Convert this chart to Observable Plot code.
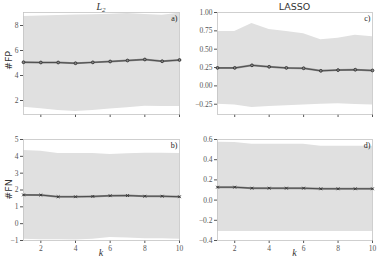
<!DOCTYPE html>
<html><head><meta charset="utf-8">
<script src="https://cdn.jsdelivr.net/npm/d3@7"></script>
<script src="https://cdn.jsdelivr.net/npm/@observablehq/plot@0.6"></script>
<style>
body{margin:0;background:#fff;}
#wrap{position:relative;width:377px;height:260px;overflow:hidden;}
#wrap svg{position:absolute;left:0;top:0;}
.lbl{position:absolute;color:#333;white-space:nowrap;line-height:1;}
</style></head><body>
<div id="wrap">
<div class="lbl" style="left:0;top:1px;width:202px;text-align:center;font:italic 10px 'Liberation Serif',serif;">L<span style="font-size:7px;position:relative;top:2px;">2</span></div>
<div class="lbl" style="left:217px;top:1px;width:155px;text-align:center;font:9.5px 'DejaVu Sans',sans-serif;">LASSO</div>
<div class="lbl" style="left:-12px;top:55px;width:40px;text-align:center;font:9.5px 'DejaVu Sans',sans-serif;transform:rotate(-90deg);">#FP</div>
<div class="lbl" style="left:-12px;top:184px;width:40px;text-align:center;font:9.5px 'DejaVu Sans',sans-serif;transform:rotate(-90deg);">#FN</div>
<div class="lbl" style="left:23px;top:247px;width:156px;text-align:center;font:italic 10px 'Liberation Serif',serif;">k</div>
<div class="lbl" style="left:217px;top:247px;width:155px;text-align:center;font:italic 10px 'Liberation Serif',serif;">k</div>
</div>
<script>
const k = [1,2,3,4,5,6,7,8,9,10];
const fpL2Mean  = [5.06,5.04,5.04,4.98,5.05,5.12,5.2,5.28,5.14,5.24];
const fpL2Upper = [8.72,8.76,8.8,8.84,8.86,8.9,8.96,8.88,8.82,8.98];
const fpL2Lower = [1.46,1.34,1.2,1.12,1.2,1.33,1.42,1.54,1.52,1.52];
const fpLassoMean  = [0.245,0.245,0.28,0.26,0.245,0.24,0.205,0.215,0.22,0.21];
const fpLassoUpper = [0.74,0.74,0.85,0.77,0.74,0.71,0.63,0.65,0.69,0.67];
const fpLassoLower = [-0.25,-0.26,-0.295,-0.28,-0.27,-0.26,-0.25,-0.245,-0.255,-0.26];
const fnL2Mean  = [1.71,1.70,1.60,1.60,1.62,1.66,1.67,1.63,1.63,1.60];
const fnL2Upper = [4.35,4.3,4.17,4.17,4.17,4.11,4.15,4.18,4.18,4.17];
const fnL2Lower = [-0.93,-0.95,-0.96,-0.97,-0.92,-0.82,-0.85,-0.9,-0.9,-0.92];
const fnLassoMean  = [0.128,0.128,0.118,0.118,0.118,0.118,0.112,0.112,0.112,0.112];
const fnLassoUpper = [0.574,0.57,0.553,0.553,0.553,0.553,0.534,0.533,0.533,0.533];
const fnLassoLower = [-0.31,-0.31,-0.31,-0.31,-0.31,-0.31,-0.31,-0.31,-0.31,-0.31];
const xTicks = [2,4,6,8,10];

const panels = [
  {mean: fpL2Mean, up: fpL2Upper, lo: fpL2Lower, frame:[23,179,12,114], yd:[0.88,9.04], yt:[2,4,6,8], fmt: d3.format("d"), tag:"a)", sym:"circle", xl:false},
  {mean: fpLassoMean, up: fpLassoUpper, lo: fpLassoLower, frame:[217,372,12,114], yd:[-0.39,1.0], yt:[-0.25,0,0.25,0.5,0.75,1.0], fmt: d3.format(".2f"), tag:"c)", sym:"circle", xl:false},
  {mean: fnL2Mean, up: fnL2Upper, lo: fnL2Lower, frame:[23,179,139,240], yd:[-1,5], yt:[-1,0,1,2,3,4,5], fmt: d3.format("d"), tag:"b)", sym:"times", xl:true},
  {mean: fnLassoMean, up: fnLassoUpper, lo: fnLassoLower, frame:[217,372,139,240], yd:[-0.4,0.6], yt:[-0.4,-0.2,0,0.2,0.4,0.6], fmt: d3.format(".1f"), tag:"d)", sym:"times", xl:true}
];

const wrap = document.getElementById("wrap");
for (const p of panels) {
  const data = k.map((kk,i) => ({k: kk, m: p.mean[i], u: p.up[i], l: p.lo[i]}));
  const [x0,x1,y0,y1] = p.frame;
  const chart = Plot.plot({
    width: 377, height: 260,
    marginLeft: x0, marginRight: 377 - x1, marginTop: y0, marginBottom: 260 - y1,
    style: {background: "transparent", color: "#555", fontFamily: "'Liberation Serif', serif", fontSize: "7.5px", maxWidth: "none", overflow: "visible"},
    x: {domain: [1,10], ticks: xTicks, tickSize: 3, tickPadding: 2, label: null, tickFormat: p.xl ? d3.format("d") : () => ""},
    y: {domain: p.yd, ticks: p.yt, tickSize: 3, tickPadding: 2, label: null, tickFormat: p.fmt},
    marks: [
      Plot.areaY(data, {x: "k", y1: "l", y2: "u", fill: "#e0e0e0"}),
      Plot.frame({stroke: "#c4c4c4", strokeWidth: 0.8}),
      Plot.lineY(data, {x: "k", y: "m", stroke: "#8a8a8a", strokeWidth: 2}),
      Plot.lineY(data, {x: "k", y: "m", stroke: "#333", strokeWidth: 0.7}),
      Plot.dot(data, {x: "k", y: "m", symbol: p.sym, r: 1.4, stroke: "#333", strokeWidth: 0.9, fill: p.sym === "circle" ? "#888" : "none"}),
      Plot.text([p.tag], {frameAnchor: "top-right", dx: -2, dy: 3, text: d => d, fill: "#222", fontSize: 8, fontFamily: "'Liberation Serif', serif"})
    ]
  });
  wrap.appendChild(chart);
}
</script>
</body></html>
